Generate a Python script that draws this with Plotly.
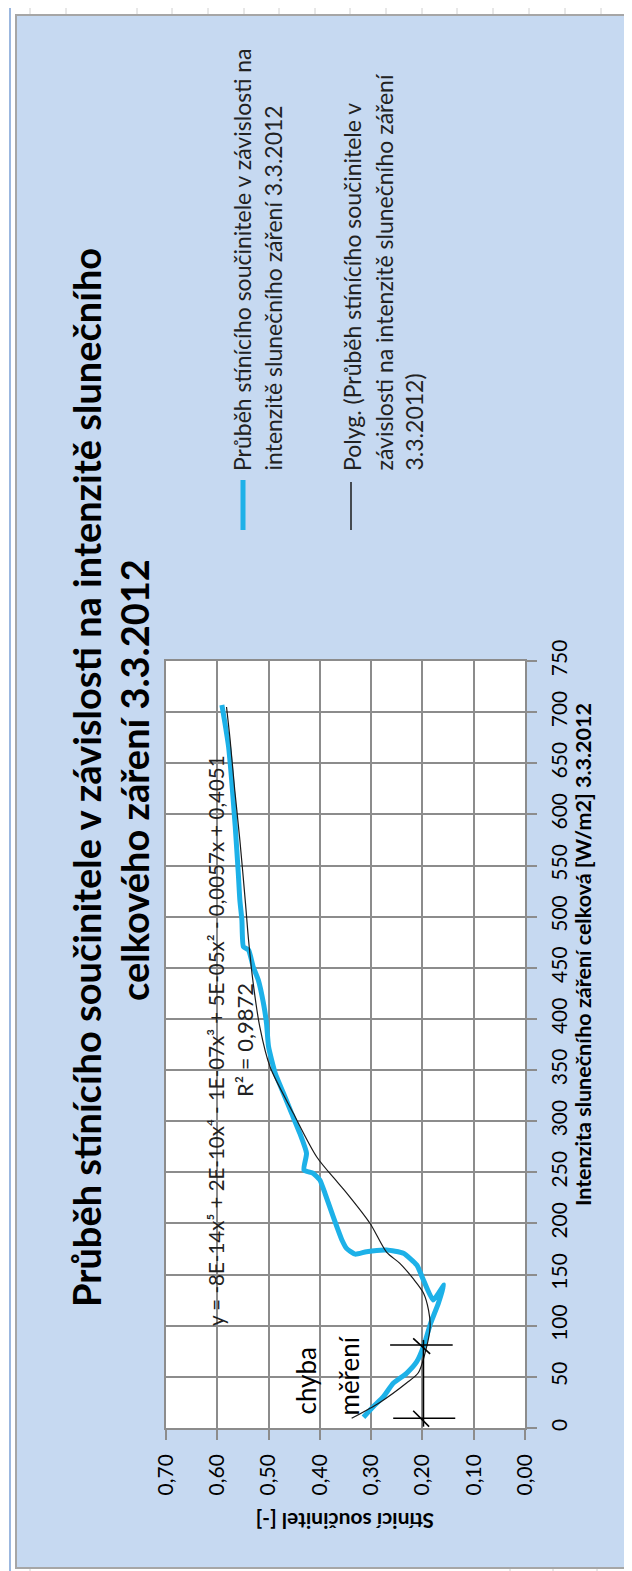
import plotly.graph_objects as go

W, H = 632, 1571
PAD = 8  # default page margin around the plot div

# measured curve (Intenzita [W/m2] vs. stínící součinitel [-]), in drawing order
blue_intensity = [10.5, 20.8, 30.6, 43.7, 53.5, 64.8, 79.5, 102.4, 121.9, 139.8, 125.2, 144.7,
                  159.4, 170.8, 174.0, 172.4, 170.0, 175.7, 183.8, 206.6, 229.5, 242.5, 249.0,
                  252.3, 268.6, 288.0, 307.7, 327.3, 346.8, 372.8, 395.7, 415.3, 438.0, 451.0,
                  467.4, 470.6, 496.7, 516.3, 542.4, 588.0, 633.6, 666.2, 689.0, 707.0]
blue_stinici = [0.315, 0.296, 0.276, 0.257, 0.231, 0.211, 0.198, 0.184, 0.169, 0.158, 0.179, 0.198,
                0.211, 0.237, 0.270, 0.309, 0.331, 0.348, 0.357, 0.374, 0.390, 0.400, 0.413,
                0.431, 0.426, 0.439, 0.455, 0.471, 0.487, 0.500, 0.504, 0.510, 0.520, 0.530,
                0.539, 0.549, 0.552, 0.556, 0.559, 0.565, 0.572, 0.578, 0.585, 0.591]

# polynomial trend line as drawn
trend_intensity = [9.5, 25, 44, 54, 73, 99, 115, 132, 146, 161, 172, 200, 230, 240, 265,
                   308, 353, 392, 435, 477, 513, 575, 624, 673, 705]
trend_stinici = [0.338, 0.283, 0.231, 0.208, 0.195, 0.185, 0.188, 0.198, 0.218, 0.244, 0.270,
                 0.302, 0.348, 0.365, 0.406, 0.452, 0.497, 0.517, 0.530, 0.539, 0.545, 0.556,
                 0.566, 0.575, 0.582]

# hand drawn "chyba měření" marks
err_intensity = [1.3, 86, None, 81.2, 81.2, None, 9.5, 9.5, None, 87.7, 72.4, None, 16.9, 1.3]
err_stinici = [0.198, 0.198, None, 0.263, 0.141, None, 0.257, 0.136, None, 0.218, 0.185, None, 0.218, 0.187]

stinici_ticks = [0.0, 0.1, 0.2, 0.3, 0.4, 0.5, 0.6, 0.7]
stinici_labels = ["0,00", "0,10", "0,20", "0,30", "0,40", "0,50", "0,60", "0,70"]
intensity_ticks = list(range(0, 751, 50))

title_lines = ["Průběh stínícího součinitele v závislosti na intenzitě slunečního",
               "celkového záření 3.3.2012"]
legend_blue = ["Průběh stínícího součinitele v závislosti na",
               "intenzitě slunečního záření 3.3.2012"]
legend_black = ["Polyg. (Průběh stínícího součinitele v",
                "závislosti na intenzitě slunečního záření",
                "3.3.2012)"]
equation = "y = -8E-14x⁵ + 2E-10x⁴ - 1E-07x³ + 5E-05x² - 0,0057x + 0,4051"
r_squared = "R² = 0,9872"

FONT = "Lato"
BLUE = "#1DB1E8"
GRID = "#8C8C8C"
FW, FH = W - PAD, H - PAD


def px(x):
    return (x - PAD) / FW


def py(y):
    return 1 - (y - PAD) / FH


fig = go.Figure()
fig.add_trace(go.Scatter(x=blue_stinici, y=blue_intensity, mode="lines",
                         line=dict(color=BLUE, width=5, shape="spline", smoothing=0.5),
                         hoverinfo="skip"))
fig.add_trace(go.Scatter(x=trend_stinici, y=trend_intensity, mode="lines",
                         line=dict(color="#1a1a1a", width=1.2, shape="spline", smoothing=0.8),
                         hoverinfo="skip"))
fig.add_trace(go.Scatter(x=err_stinici, y=err_intensity, mode="lines",
                         line=dict(color="black", width=1.6), hoverinfo="skip"))

# chart area and plot area backgrounds
shapes = [
    dict(type="rect", xref="paper", yref="paper", x0=px(16), x1=px(645), y0=py(1568), y1=py(15),
         fillcolor="#C6D9F1", line=dict(color="#A6A6A6", width=2), layer="below"),
    dict(type="rect", xref="paper", yref="paper", x0=px(166), x1=px(525), y0=py(1428), y1=py(661),
         fillcolor="white", line=dict(width=0), layer="below"),
    dict(type="line", xref="paper", yref="paper", x0=px(10), x1=px(645), y0=py(4), y1=py(4),
         line=dict(color="#7A9FD4", width=1.5)),
    dict(type="line", xref="paper", yref="paper", x0=px(10), x1=px(10), y0=py(4), y1=py(1580),
         line=dict(color="#7A9FD4", width=1.5)),
]
for gx in [30, 66, 137, 172, 208, 244, 279, 315, 350, 386, 422, 457, 493, 529, 565, 601]:
    shapes.append(dict(type="line", xref="paper", yref="paper", x0=px(gx), x1=px(gx),
                       y0=py(5), y1=py(14), line=dict(color="#D0D0D0", width=1)))
for gx in [30, 510, 553, 597]:
    shapes.append(dict(type="line", xref="paper", yref="paper", x0=px(gx), x1=px(gx),
                       y0=py(1569), y1=py(1575), line=dict(color="#D0D0D0", width=1)))

# legend samples
shapes.append(dict(type="line", xref="paper", yref="paper", x0=px(243), x1=px(243),
                   y0=py(480), y1=py(530), line=dict(color=BLUE, width=5)))
shapes.append(dict(type="line", xref="paper", yref="paper", x0=px(351), x1=px(351),
                   y0=py(482), y1=py(530), line=dict(color="#1a1a1a", width=1.5)))

annotations = []
for text, cx, cy in zip(title_lines, [86, 134], [778, 780]):
    annotations.append(dict(text="<b>" + text + "</b>", xref="paper", yref="paper",
                            x=px(cx), y=py(cy), textangle=-90, showarrow=False,
                            xanchor="center", yanchor="middle",
                            font=dict(family=FONT, size=38, color="black")))
for text, cx in zip(legend_blue, [242, 272]):
    annotations.append(dict(text=text, xref="paper", yref="paper", x=px(cx), y=py(473),
                            textangle=-90, showarrow=False, xanchor="center", yanchor="bottom",
                            font=dict(family=FONT, size=23, color="#222")))
for text, cx in zip(legend_black, [352, 383, 413]):
    annotations.append(dict(text=text, xref="paper", yref="paper", x=px(cx), y=py(473),
                            textangle=-90, showarrow=False, xanchor="center", yanchor="bottom",
                            font=dict(family=FONT, size=23, color="#222")))
annotations.append(dict(text=equation, xref="paper", yref="paper", x=px(216), y=py(1041),
                        textangle=-90, showarrow=False, xanchor="center", yanchor="middle",
                        font=dict(family=FONT, size=20.5, color="#222")))
annotations.append(dict(text=r_squared, xref="paper", yref="paper", x=px(244), y=py(1040),
                        textangle=-90, showarrow=False, xanchor="center", yanchor="middle",
                        font=dict(family=FONT, size=22, color="#222")))
annotations.append(dict(text="chyba", xref="paper", yref="paper", x=px(305), y=py(1417),
                        textangle=-90, showarrow=False, xanchor="center", yanchor="bottom",
                        font=dict(family=FONT, size=26, color="black")))
annotations.append(dict(text="měření", xref="paper", yref="paper", x=px(348), y=py(1417),
                        textangle=-90, showarrow=False, xanchor="center", yanchor="bottom",
                        font=dict(family=FONT, size=26, color="black")))
annotations.append(dict(text="<b>Intenzita slunečního záření celková [W/m2] 3.3.2012</b>",
                        xref="paper", yref="paper", x=px(583), y=py(955), textangle=-90,
                        showarrow=False, xanchor="center", yanchor="middle",
                        font=dict(family=FONT, size=21.5, color="black")))
annotations.append(dict(text="<b>Stínicí součinitel [-]</b>", xref="paper", yref="paper",
                        x=px(345), y=py(1522), textangle=180, showarrow=False,
                        xanchor="center", yanchor="middle",
                        font=dict(family=FONT, size=21, color="black")))

fig.update_layout(
    width=FW, height=FH,
    margin=dict(l=0, r=0, t=0, b=0, autoexpand=False),
    paper_bgcolor="white",
    plot_bgcolor="rgba(0,0,0,0)",
    showlegend=False,
    shapes=shapes,
    annotations=annotations,
    xaxis=dict(domain=[px(166), px(525)], range=[0.7, 0], tickvals=stinici_ticks,
               ticktext=stinici_labels, tickangle=-90, ticks="outside", ticklen=10,
               ticklabelstandoff=6,
               tickcolor=GRID, tickwidth=1.5, showgrid=True, gridcolor=GRID, gridwidth=1.5,
               showline=True, linecolor=GRID, linewidth=1.5, mirror=True, zeroline=False,
               automargin=False, tickfont=dict(family=FONT, size=21, color="black")),
    yaxis=dict(domain=[py(1428), py(661)], range=[0, 750], tickvals=intensity_ticks,
               side="right", tickangle=-90, ticks="outside", ticklen=10, ticklabelstandoff=5,
               tickcolor=GRID, tickwidth=1.5, showgrid=True, gridcolor=GRID, gridwidth=1.5,
               showline=True, linecolor=GRID, linewidth=1.5, mirror=True, zeroline=False,
               automargin=False, tickfont=dict(family=FONT, size=21, color="black")),
)

fig.write_html("out.html")
